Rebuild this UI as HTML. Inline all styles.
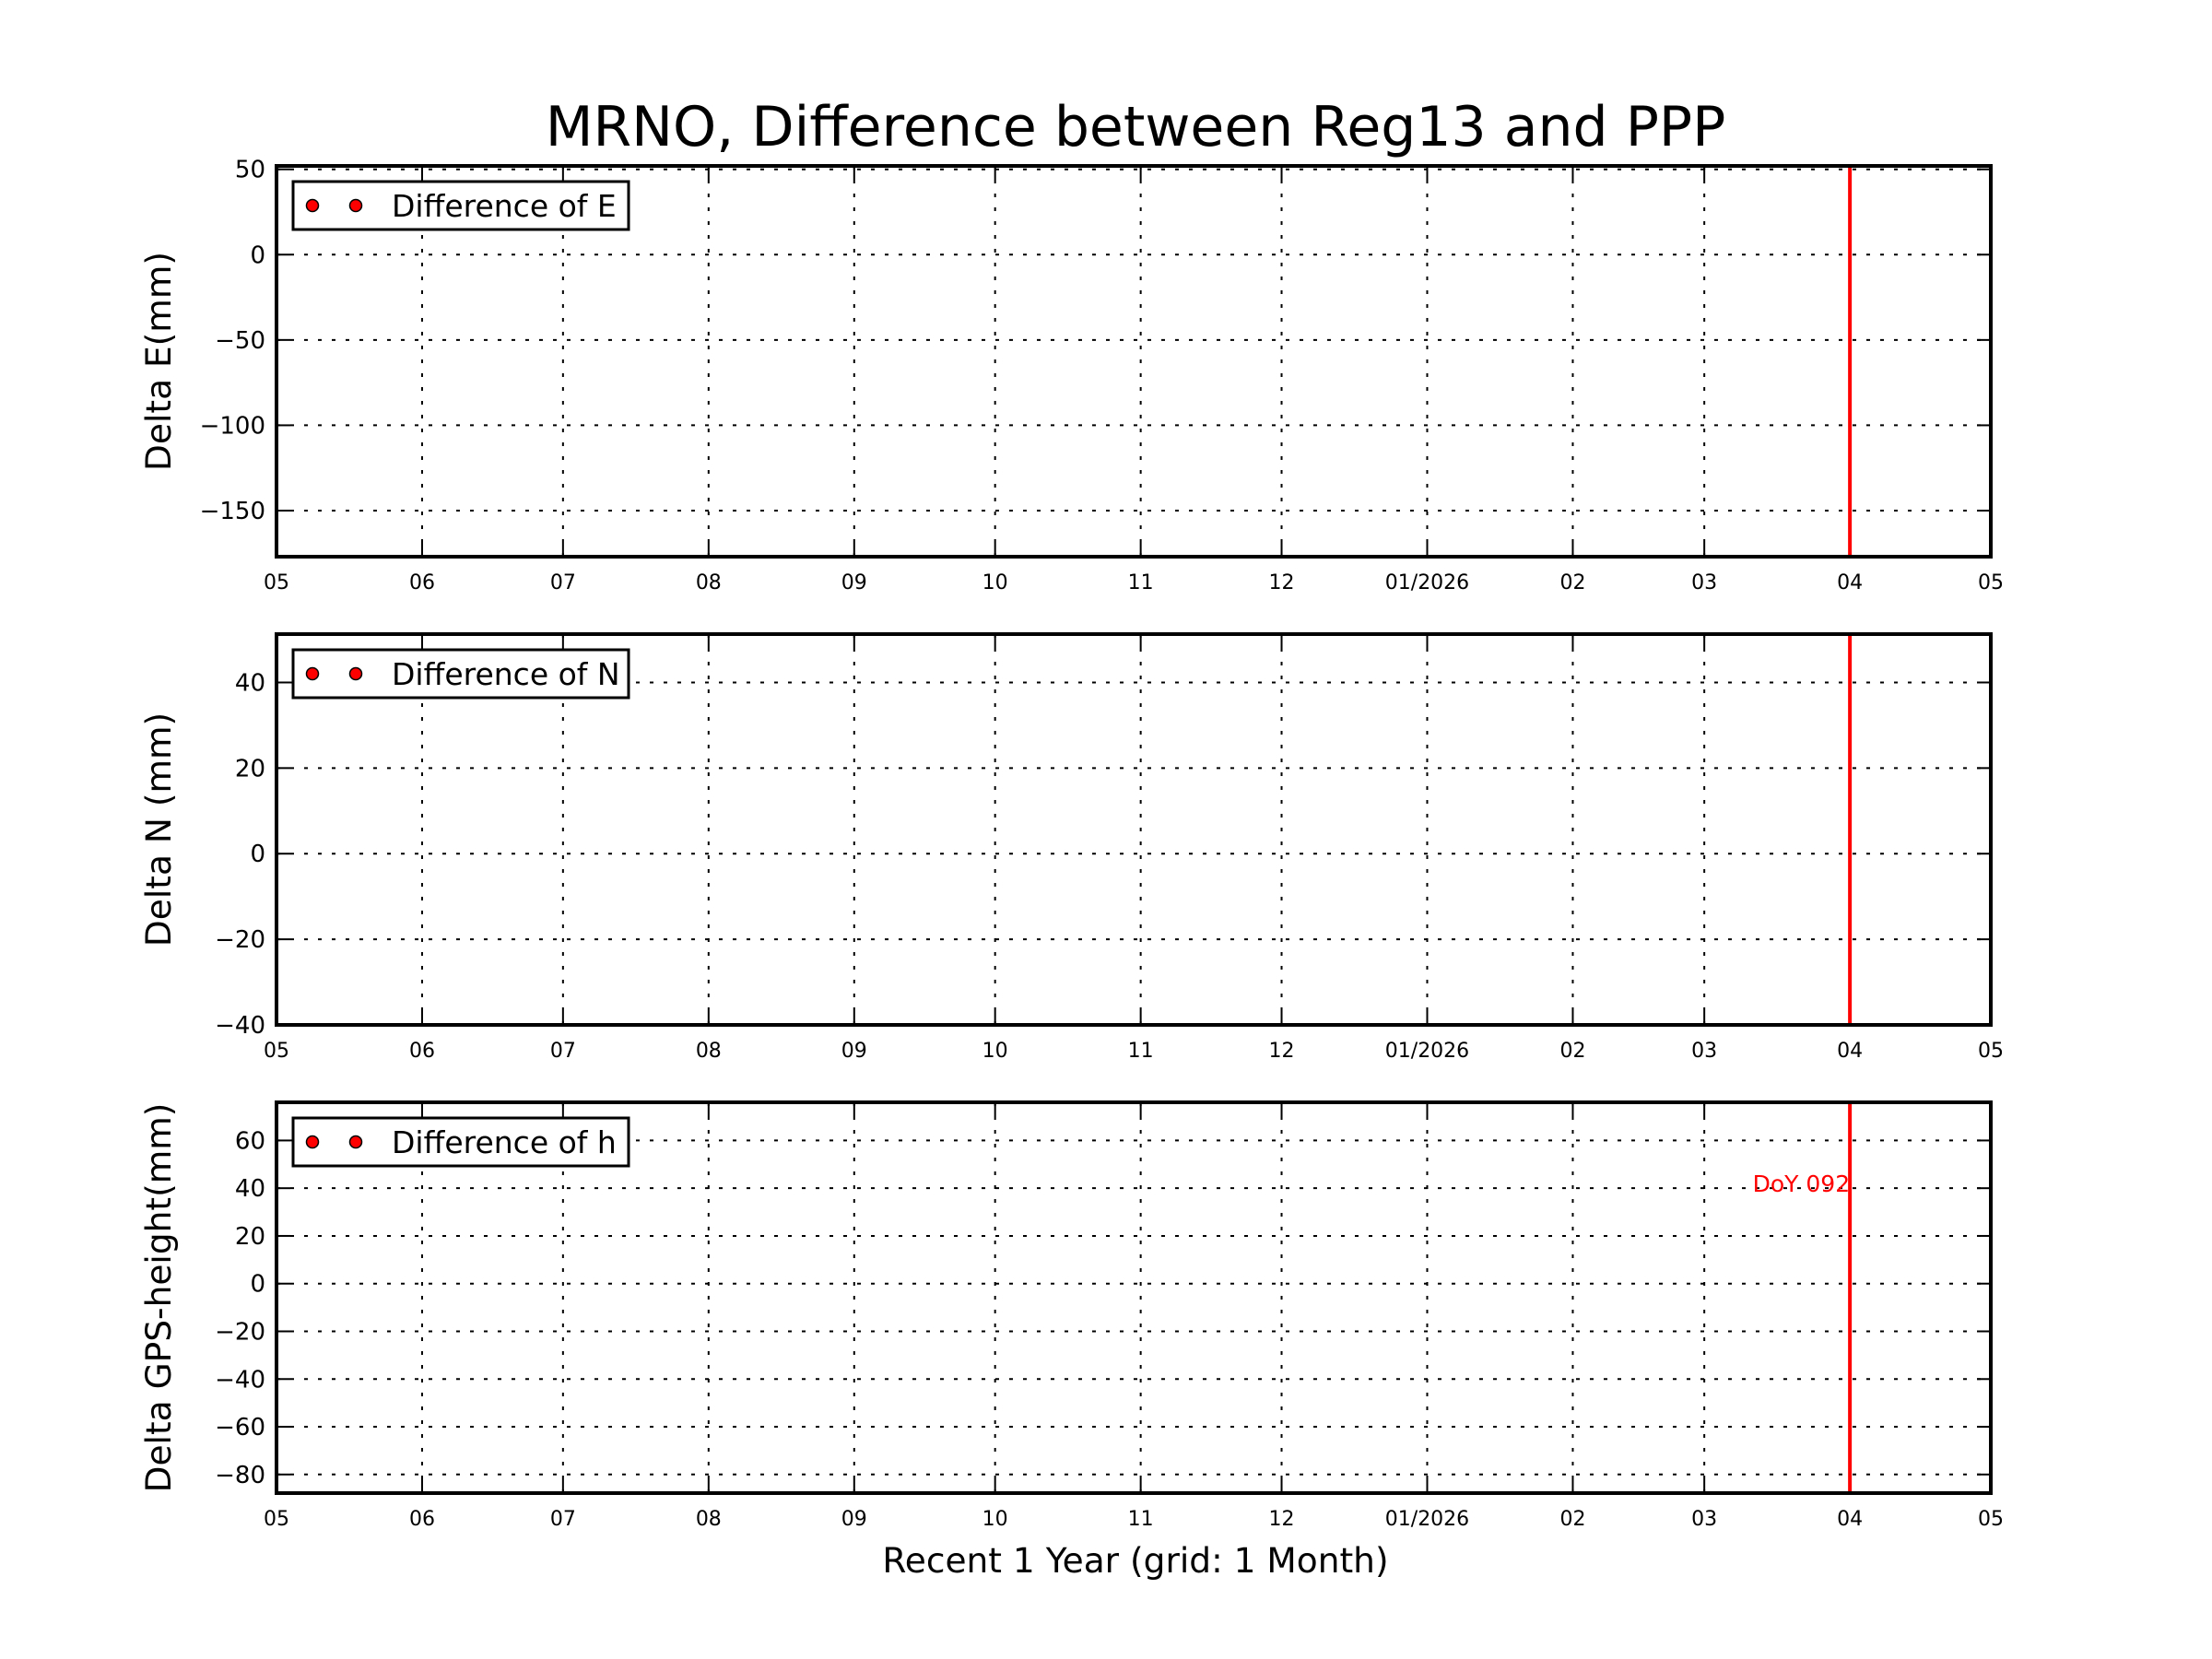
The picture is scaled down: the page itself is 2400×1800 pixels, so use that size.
<!DOCTYPE html>
<html><head><meta charset="utf-8"><style>
html,body{margin:0;padding:0;background:#fff;}
svg{display:block;font-family:"DejaVu Sans","Liberation Sans",sans-serif;}
</style></head><body>
<svg id="chart" width="2400" height="1800" viewBox="0 0 2400 1800" xmlns="http://www.w3.org/2000/svg">
<rect x="0" y="0" width="2400" height="1800" fill="#fff"/>
<text x="1232" y="158" font-size="60" text-anchor="middle">MRNO, Difference between Reg13 and PPP</text>
<text x="1232" y="1706" font-size="37.5" text-anchor="middle">Recent 1 Year (grid: 1 Month)</text>
</svg>
<script>
const monthLabels = ["05","06","07","08","09","10","11","12","01/2026","02","03","04","05"];
const monthDays = [0,31,61,92,123,153,184,214,245,276,304,335,365];
const panelNames = ["E","N","h"];
const panelYLabels = ["Delta E(mm)","Delta N (mm)","Delta GPS-height(mm)"];
const legendLabels = ["Difference of E","Difference of N","Difference of h"];
const yMinE = -177, yMaxE = 52;
const yMinN = -40, yMaxN = 51.3;
const yMinH = -87.8, yMaxH = 76;
const yTicksE = [50,0,-50,-100,-150];
const yTicksN = [40,20,0,-20,-40];
const yTicksH = [60,40,20,0,-20,-40,-60,-80];
const seriesE = [];
const seriesN = [];
const seriesH = [];
const markerDays = [335];
const markerLabels = ["DoY 092"];

const NS = "http://www.w3.org/2000/svg";
const svg = document.getElementById("chart");
function mk(tag, attrs, parent){
  const e = document.createElementNS(NS, tag);
  for (const k in attrs) e.setAttribute(k, attrs[k]);
  (parent||svg).appendChild(e);
  return e;
}
const L = 300, R = 2160, tops = [180, 688, 1196], H = 424;
const ranges = [[yMinE,yMaxE],[yMinN,yMaxN],[yMinH,yMaxH]];
const ticks = [yTicksE, yTicksN, yTicksH];
const series = [seriesE, seriesN, seriesH];
function xScale(d){ return L + d/365*(R-L); }

for (let p=0;p<3;p++){
  const top = tops[p], bot = top+H;
  const [y0,y1] = ranges[p];
  const yScale = v => bot - (v-y0)/(y1-y0)*H;
  const g = mk("g", {});
  
  
  for (let i=0;i<monthDays.length;i++){
    const x = xScale(monthDays[i]);
    if (i>0 && i<monthDays.length-1){
      const gl = mk("line",{x1:x,x2:x,y1:top,y2:bot,stroke:"#000","stroke-width":2,"stroke-dasharray":"4 11"},g);
      
      
    }
    const t1 = mk("line",{x1:x,x2:x,y1:bot,y2:bot-15,stroke:"#000","stroke-width":2},g);
    
    
    const t2 = mk("line",{x1:x,x2:x,y1:top,y2:top+15,stroke:"#000","stroke-width":2},g);
    
    
    const tl = mk("text",{x:x,y:bot+35,"font-size":22,"text-anchor":"middle"},g);
    tl.textContent = monthLabels[i];
    
    
  }
  for (const v of ticks[p]){
    const y = yScale(v);
    const gl = mk("line",{x1:L,x2:R,y1:y,y2:y,stroke:"#000","stroke-width":2,"stroke-dasharray":"4 11"},g);
    
    
    const t1 = mk("line",{x1:L,x2:L+15,y1:y,y2:y,stroke:"#000","stroke-width":2},g);
    
    
    const t2 = mk("line",{x1:R-15,x2:R,y1:y,y2:y,stroke:"#000","stroke-width":2},g);
    
    
    const tl = mk("text",{x:L-12,y:y+9,"font-size":26,"text-anchor":"end"},g);
    tl.textContent = (v<0? "\u2212"+Math.abs(v) : String(v));
    
    
  }
  for (const pt of series[p]){
    const c = mk("circle",{cx:xScale(pt[0]),cy:yScale(pt[1]),r:6,fill:"red",stroke:"#000","stroke-width":1.5},g);
    
    
  }
  for (let m=0;m<markerDays.length;m++){
    const x = xScale(markerDays[m]);
    const vl = mk("line",{x1:x,x2:x,y1:top,y2:bot,stroke:"red","stroke-width":4},g);
    
    
    if (p===2){
      const mt = mk("text",{x:x,y:yScale(40)+4,"font-size":25,"text-anchor":"end",fill:"red"},g);
      mt.textContent = markerLabels[m];
      
      
    }
  }
  const fr = mk("rect",{x:L,y:top,width:R-L,height:H,fill:"none",stroke:"#000","stroke-width":4},g);
  
  
  const cy = top + H/2;
  const yl = mk("text",{x:0,y:0,"font-size":37.5,"text-anchor":"middle",transform:`translate(185 ${cy}) rotate(-90)`},g);
  yl.textContent = panelYLabels[p];
  
  
  const lg = mk("g",{},g);
  
  
  const lb = mk("rect",{x:318,y:top+17,width:364,height:52,fill:"#fff",stroke:"#000","stroke-width":3},lg);
  
  
  for (const mx of [339,386]){
    const c = mk("circle",{cx:mx,cy:top+43,r:6.5,fill:"red",stroke:"#000","stroke-width":1.5},lg);
    
    
  }
  const lt = mk("text",{x:425,y:top+55,"font-size":33},lg);
  lt.textContent = legendLabels[p];
  
  
}
</script>
</body></html>
